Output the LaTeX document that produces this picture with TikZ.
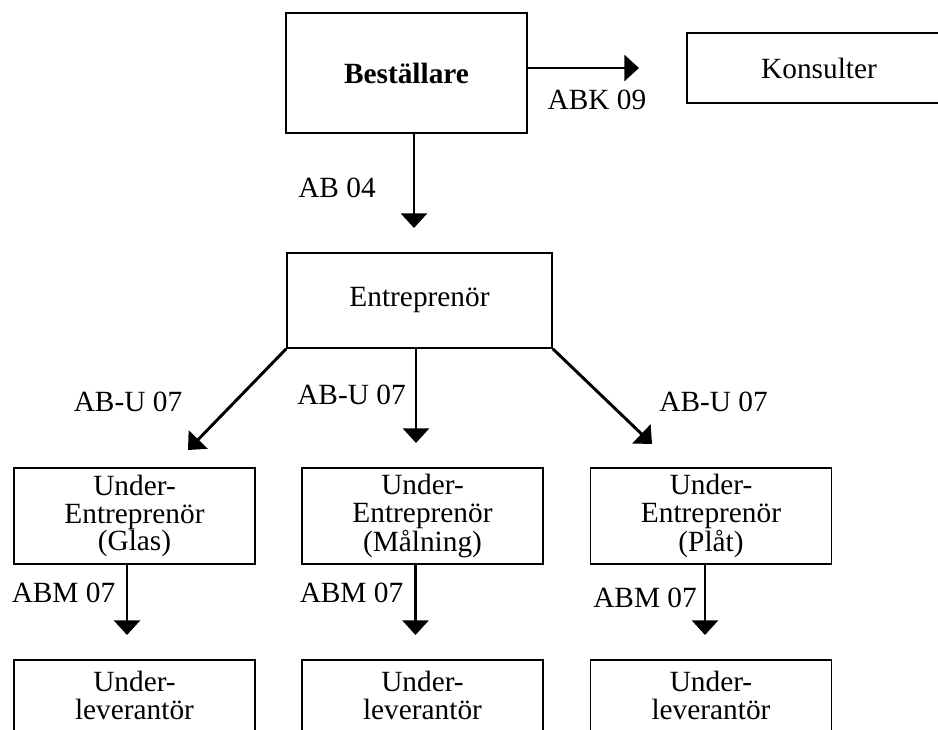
\documentclass[tikz,border=0pt]{standalone}
\usepackage{fontspec}
\setmainfont{Liberation Serif}
\usetikzlibrary{arrows.meta,positioning,calc}
\tikzset{
  fbox/.style={draw, line width=1.2pt, align=center, inner sep=0pt,
               font=\fontsize{22}{20.5}\selectfont},
  nbest/.style={fbox, minimum width=180.75pt, minimum height=90pt,
                font=\fontsize{22}{20.5}\selectfont\bfseries},
  nkons/.style={fbox, minimum width=198pt, minimum height=52.5pt},
  nentr/.style={fbox, minimum width=198.75pt, minimum height=71.25pt},
  nue/.style={fbox, minimum width=180.75pt, minimum height=72pt},
  nul/.style={fbox, minimum width=180.75pt, minimum height=53.25pt},
  lbl/.style={inner sep=0pt, font=\fontsize{22}{20.5}\selectfont},
  flow/.style={-{Triangle[width=19.5pt,length=11pt]}, line width=2.2pt},
}
\begin{document}
\begin{tikzpicture}[x=0.75pt,y=-0.75pt]
  \useasboundingbox (0,0) rectangle (938,729);
  \clip (0,0) rectangle (938,729);
  % boxes
  \node[nbest] (best) at (406.5,73) {Beställare};
  \node[nkons] (kons) at (819,68) {Konsulter};
  \node[nentr] (entr) at (419.5,300.5) {Entreprenör};
  \node[nue] (ueglas) at (134.5,516) {Under-\\Entreprenör\\(Glas)};
  \node[nue] (uemal) at (422.5,516) {Under-\\Entreprenör\\(Målning)};
  \node[nue] (ueplat) at (711,516) {Under-\\Entreprenör\\(Plåt)};
  \node[nul] (ulglas) at (134.5,695.5) {Under-\\leverantör};
  \node[nul] (ulmal) at (422.5,695.5) {Under-\\leverantör};
  \node[nul] (ulplat) at (711,695.5) {Under-\\leverantör};
  % arrow tips
  \coordinate (tkons) at (639,68);
  \coordinate (tentr) at (414,228);
  \coordinate (tglas) at (188,450);
  \coordinate (tmal) at (416,443);
  \coordinate (tplat) at (652,444);
  \coordinate (tlglas) at (127,635);
  \coordinate (tlmal) at (415.5,635);
  \coordinate (tlplat) at (705,635);
  % connectors
  \draw[flow] (best.east |- tkons) -- (tkons);
  \draw[flow] (best.south -| tentr) -- (tentr);
  \draw[flow] (entr.south west) -- (tglas);
  \draw[flow] (entr.south -| tmal) -- (tmal);
  \draw[flow] (entr.south east) -- (tplat);
  \foreach \u/\t in {ueglas/tlglas,uemal/tlmal,ueplat/tlplat}
    \draw[flow] (\u.south -| \t) -- (\t);
  % labels
  \node[lbl] (labk) at (597,100) {ABK 09};
  \node[lbl] (lab) at (337,188) {AB 04};
  \node[lbl] (labuglas) at (128,402) {AB-U 07};
  \node[lbl] (labumal) at (351.5,395) {AB-U 07};
  \node[lbl] (labuplat) at (713.5,402) {AB-U 07};
  \node[lbl] (labmglas) at (63.5,593) {ABM 07};
  \node[lbl] (labmmal) at (351.5,593) {ABM 07};
  \node[lbl] (labmplat) at (645,598) {ABM 07};
\end{tikzpicture}
\end{document}
